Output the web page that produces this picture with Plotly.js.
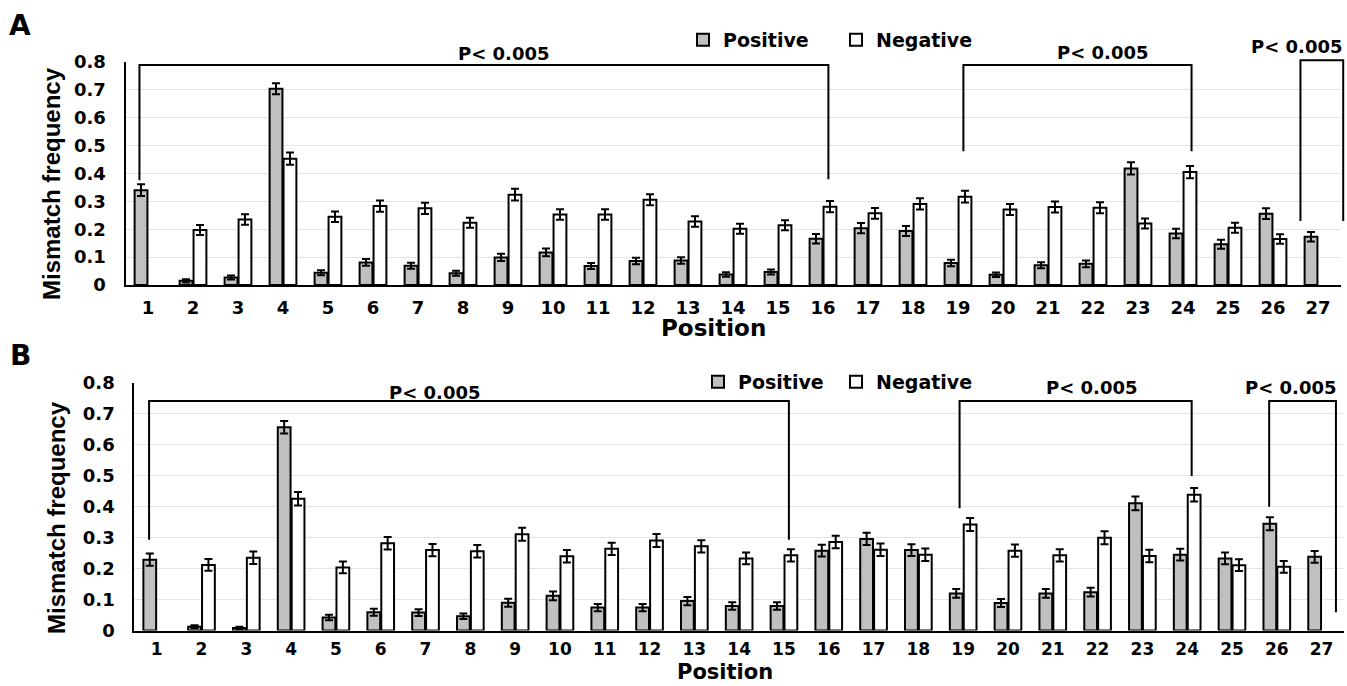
<!DOCTYPE html>
<html>
<head>
<meta charset="utf-8">
<script src="https://cdn.plot.ly/plotly-3.0.1.min.js"></script>
<style>html,body{margin:0;padding:0;background:#fff;}#chart{width:1347px;height:686px;}</style>
</head>
<body>
<div id="chart"></div>
<script>
// ---- data ----
var positions = [1,2,3,4,5,6,7,8,9,10,11,12,13,14,15,16,17,18,19,20,21,22,23,24,25,26,27];
var tickLabels = ['1','2','3','4','5','6','7','8','9','10','11','12','13','14','15','16','17','18','19','20','21','22','23','24','25','26','27'];

var posA = [0.34,0.015,0.027,0.704,0.044,0.081,0.069,0.042,0.099,0.117,0.068,0.086,0.088,0.038,0.047,0.166,0.204,0.194,0.079,0.037,0.071,0.076,0.418,0.185,0.146,0.256,0.173];
var posAerr = [0.021,0.006,0.007,0.02,0.009,0.012,0.011,0.009,0.013,0.014,0.011,0.012,0.012,0.008,0.009,0.017,0.018,0.018,0.012,0.008,0.011,0.012,0.022,0.017,0.016,0.019,0.017];
var negA = [null,0.197,0.235,0.453,0.245,0.283,0.275,0.223,0.324,0.253,0.253,0.306,0.228,0.202,0.214,0.281,0.257,0.291,0.317,0.271,0.280,0.277,0.221,0.405,0.205,0.165,null];
var negAerr = [null,0.018,0.019,0.022,0.019,0.02,0.02,0.018,0.021,0.019,0.019,0.02,0.019,0.018,0.018,0.02,0.019,0.02,0.021,0.02,0.02,0.02,0.018,0.022,0.018,0.017,null];

var posB = [0.229,0.012,0.008,0.657,0.042,0.059,0.058,0.046,0.090,0.112,0.074,0.074,0.095,0.079,0.079,0.258,0.296,0.260,0.120,0.089,0.120,0.124,0.411,0.245,0.233,0.345,0.238];
var posBerr = [0.02,0.005,0.004,0.02,0.009,0.011,0.011,0.009,0.013,0.014,0.012,0.012,0.013,0.012,0.012,0.019,0.02,0.019,0.014,0.013,0.014,0.014,0.022,0.019,0.019,0.021,0.019];
var negB = [null,0.212,0.235,0.426,0.204,0.282,0.260,0.256,0.311,0.240,0.264,0.291,0.272,0.233,0.243,0.286,0.261,0.245,0.343,0.258,0.243,0.300,0.241,0.439,0.211,0.206,null];
var negBerr = [null,0.019,0.02,0.022,0.019,0.02,0.02,0.02,0.021,0.02,0.02,0.021,0.02,0.019,0.02,0.02,0.02,0.02,0.021,0.02,0.02,0.021,0.02,0.022,0.019,0.019,null];

var seriesNames = ['Positive','Negative'];
var pValueText = 'P< 0.005';
var xTitle = 'Position';
var yTitle = 'Mismatch frequency';

// significance brackets: [leftX, leftBottomY, rightX, rightBottomY, topY, labelX, labelY]
var bracketsA = [
  [0.81, 0.376, 16.12, 0.379, 0.789, 8.89, 0.83],
  [19.12, 0.48, 24.19, 0.48, 0.789, 22.2, 0.833],
  [26.61, 0.23, 27.56, 0.23, 0.806, 26.53, 0.857]
];
var bracketsB = [
  [0.83, 0.293, 15.11, 0.293, 0.742, 7.21, 0.768],
  [18.92, 0.395, 24.10, 0.499, 0.742, 21.87, 0.787],
  [25.83, 0.40, 27.32, 0.059, 0.742, 26.30, 0.787]
];

// ---- style ----
var W = 1347, H = 686;
var BOLD = 'DejaVu Sans, Verdana, sans-serif';
var ARIAL = 'Liberation Sans, Arial, sans-serif';
var xRange = [0.5, 27.5], yRange = [0, 0.8];
var grayFill = '#c0c0c0';

function barTrace(y, err, name, fill, xa, ya, legendId) {
  return {
    type: 'bar', x: positions, y: y, name: name,
    xaxis: xa, yaxis: ya, legend: legendId,
    marker: {color: fill, line: {color: '#000', width: 2}},
    error_y: {type: 'data', array: err, visible: true, color: '#000', thickness: 2, width: 4}
  };
}

var data = [
  barTrace(posA, posAerr, seriesNames[0], grayFill, 'x', 'y', 'legend'),
  barTrace(negA, negAerr, seriesNames[1], '#ffffff', 'x', 'y', 'legend'),
  barTrace(posB, posBerr, seriesNames[0], grayFill, 'x2', 'y2', 'legend2'),
  barTrace(negB, negBerr, seriesNames[1], '#ffffff', 'x2', 'y2', 'legend2')
];

function fx(v) { return (v - xRange[0]) / (xRange[1] - xRange[0]); }
function fy(v) { return (v - yRange[0]) / (yRange[1] - yRange[0]); }

var shapes = [], annotations = [];
function addBrackets(list, xa, ya) {
  list.forEach(function (b) {
    var path = 'M' + fx(b[0]) + ',' + fy(b[1]) + ' L' + fx(b[0]) + ',' + fy(b[4]) +
               ' L' + fx(b[2]) + ',' + fy(b[4]) + ' L' + fx(b[2]) + ',' + fy(b[3]);
    shapes.push({type: 'path', xref: xa + ' domain', yref: ya + ' domain', path: path,
                 line: {color: '#000', width: 2}});
    annotations.push({xref: xa + ' domain', yref: ya + ' domain', x: fx(b[5]), y: fy(b[6]),
                      text: pValueText, showarrow: false, xanchor: 'center', yanchor: 'middle',
                      font: {family: BOLD, size: 18, color: '#000', weight: 'bold'}});
  });
}
addBrackets(bracketsA, 'x', 'y');
addBrackets(bracketsB, 'x2', 'y2');

function paperText(text, px, py, size, family, angle) {
  annotations.push({xref: 'paper', yref: 'paper', x: px / W, y: 1 - py / H, text: text, showarrow: false,
                    xanchor: 'center', yanchor: 'middle', textangle: angle || 0,
                    font: {family: family, size: size, color: '#000', weight: 'bold'}});
}
paperText('A', 20, 26, 28, BOLD);
paperText('B', 20, 355, 28, BOLD);
// axis titles
paperText(xTitle, 713, 328, 23, BOLD);
paperText(xTitle, 725, 672, 21, BOLD);
paperText(yTitle, 52, 184, 24, ARIAL, -90);
paperText(yTitle, 56, 518, 24, ARIAL, -90);

function xAxis(domain, anchor, standoff, size) {
  return {
    domain: domain, anchor: anchor, range: xRange, type: 'linear',
    tickmode: 'array', tickvals: positions, ticktext: tickLabels,
    showgrid: false, zeroline: false, showline: true, linecolor: '#000', linewidth: 2,
    ticks: '', ticklabelstandoff: standoff,
    tickfont: {family: BOLD, size: size, color: '#000', weight: 'bold'}
  };
}
function yAxis(domain, anchor) {
  return {
    domain: domain, anchor: anchor, range: yRange, tickmode: 'array',
    tickvals: [0,0.1,0.2,0.3,0.4,0.5,0.6,0.7,0.8], ticktext: ['0','0.1','0.2','0.3','0.4','0.5','0.6','0.7','0.8'],
    showgrid: true, gridcolor: '#e4e4e4', gridwidth: 1,
    zeroline: false, showline: true, linecolor: '#000', linewidth: 2,
    ticks: '', ticklabelstandoff: 14,
    tickfont: {family: BOLD, size: 18, color: '#000', weight: 'bold'}
  };
}

var layout = {
  width: W, height: H,
  margin: {l: 0, r: 0, t: 0, b: 0},
  paper_bgcolor: '#fff', plot_bgcolor: '#fff',
  barmode: 'group', bargap: 0.38, bargroupgap: 0.08,
  xaxis: xAxis([125.5 / W, 1340.5 / W], 'y', 5, 18),
  yaxis: yAxis([1 - 285 / H, 1 - 62 / H], 'x'),
  xaxis2: xAxis([134.3 / W, 1344 / W], 'y2', 2, 17),
  yaxis2: yAxis([1 - 630.5 / H, 1 - 383 / H], 'x2'),
  legend: {orientation: 'h', x: 683 / W, y: 1 - 40 / H, xanchor: 'left', yanchor: 'middle',
           bgcolor: 'rgba(0,0,0,0)', entrywidth: 108, entrywidthmode: 'pixels', itemclick: false,
           font: {family: BOLD, size: 19, color: '#000', weight: 'bold'}},
  legend2: {orientation: 'h', x: 698 / W, y: 1 - 382 / H, xanchor: 'left', yanchor: 'middle',
           bgcolor: 'rgba(0,0,0,0)', entrywidth: 93, entrywidthmode: 'pixels', itemclick: false,
           font: {family: BOLD, size: 19, color: '#000', weight: 'bold'}},
  shapes: shapes,
  annotations: annotations,
  showlegend: true
};

Plotly.newPlot('chart', data, layout, {staticPlot: true, displayModeBar: false});
</script>
</body>
</html>
